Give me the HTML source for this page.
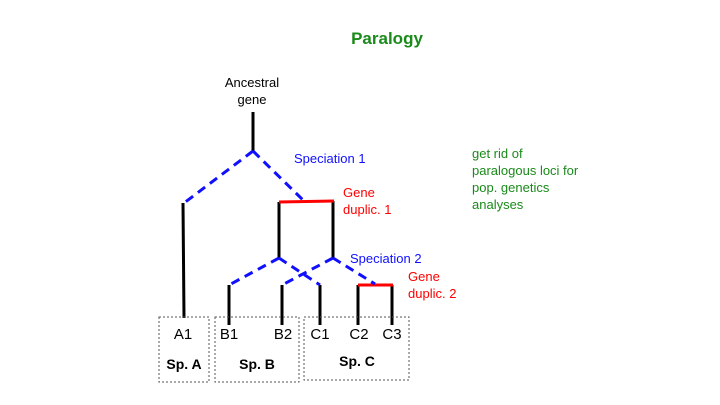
<!DOCTYPE html>
<html><head><style>
body{margin:0;background:#fff;}
svg{display:block;font-family:"Liberation Sans",sans-serif;}
</style></head><body>
<svg width="720" height="405" viewBox="0 0 720 405">
<text x="387" y="44" text-anchor="middle" font-size="17" font-weight="bold" fill="#1a8a1a">Paralogy</text>
<text x="252" y="87" text-anchor="middle" font-size="13">Ancestral</text>
<text x="252" y="104" text-anchor="middle" font-size="13">gene</text>
<g stroke="#000" stroke-width="3">
<line x1="253" y1="112" x2="253" y2="151"/>
<line x1="183" y1="203" x2="184" y2="318"/>
<line x1="279" y1="202" x2="279" y2="259"/>
<line x1="333" y1="201" x2="333" y2="258"/>
<line x1="229" y1="285" x2="229" y2="325"/>
<line x1="282" y1="285" x2="282" y2="325"/>
<line x1="320" y1="285" x2="320" y2="325"/>
<line x1="358" y1="285" x2="358" y2="325"/>
<line x1="392" y1="285" x2="392" y2="325"/>
</g>
<g stroke="red" stroke-width="3">
<line x1="279" y1="202" x2="334" y2="201"/>
<line x1="358" y1="285" x2="393" y2="285"/>
</g>
<g stroke="#1010ff" stroke-width="3" stroke-dasharray="9,6" fill="none">
<line x1="253" y1="151" x2="184" y2="203"/>
<line x1="253" y1="151" x2="304" y2="201"/>
<line x1="279" y1="258" x2="229" y2="285"/>
<line x1="279" y1="258" x2="320" y2="285"/>
<line x1="333" y1="258" x2="282" y2="285"/>
<line x1="333" y1="258" x2="375" y2="284"/>
</g>
<text x="294" y="163" font-size="13" fill="#1010ff">Speciation 1</text>
<text x="350" y="263" font-size="13" fill="#1010ff">Speciation 2</text>
<text x="343" y="197" font-size="13" fill="red">Gene</text>
<text x="343" y="214" font-size="13" fill="red">duplic. 1</text>
<text x="408" y="281" font-size="13" fill="red">Gene</text>
<text x="408" y="298" font-size="13" fill="red">duplic. 2</text>
<g font-size="13" fill="#1a8a1a">
<text x="472" y="158">get rid of</text>
<text x="472" y="175">paralogous loci for</text>
<text x="472" y="192">pop. genetics</text>
<text x="472" y="209">analyses</text>
</g>
<g fill="none" stroke="#555" stroke-width="1" stroke-dasharray="2,2">
<rect x="159" y="317" width="50" height="65"/>
<rect x="215" y="317" width="84" height="65"/>
<rect x="304" y="317" width="105" height="63"/>
</g>
<g font-size="15" text-anchor="middle">
<text x="183" y="339">A1</text>
<text x="229" y="339">B1</text>
<text x="283" y="339">B2</text>
<text x="320" y="339">C1</text>
<text x="359" y="339">C2</text>
<text x="392" y="339">C3</text>
</g>
<g font-size="14" font-weight="bold" text-anchor="middle">
<text x="184" y="369">Sp. A</text>
<text x="257" y="369">Sp. B</text>
<text x="357" y="366">Sp. C</text>
</g>
</svg>
</body></html>
